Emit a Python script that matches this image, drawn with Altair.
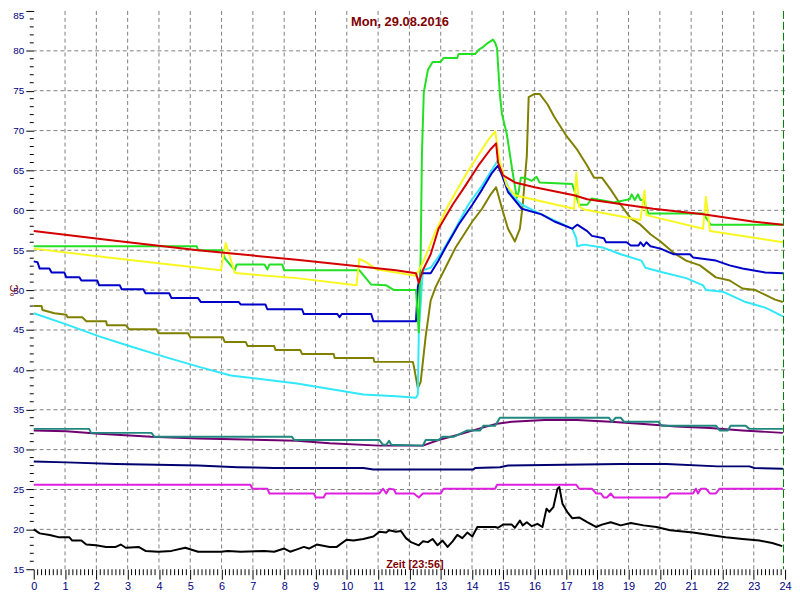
import altair as alt
import pandas as pd

# ---------------- axis / grid values ----------------
hours_major = list(range(0, 25))
temp_major = list(range(15, 90, 5))
grid_hours = list(range(1, 24))
grid_temps = list(range(20, 85, 5))
minor_temps = [t for t in range(16, 85) if t % 5 != 0]
minor_hours = [h + k / 8 for h in range(24) for k in range(1, 8)]
now_marker = [23.95]

title_text = "Mon, 29.08.2016"
xlabel_text = "Zeit [23:56]"
ylabel_text = "°C"

# ---------------- series (hour, °C) ----------------
green_h = [0, 5.2, 5.25, 6.04, 6.10, 6.42, 6.48, 7.37, 7.46, 7.53, 7.94, 8.0, 10.40, 10.78, 11.26, 11.51,
           12.21, 12.30, 12.36, 12.40, 12.46, 12.59, 12.74, 13.0, 13.09, 13.53, 13.57, 14.10, 14.20, 14.36,
           14.51, 14.67, 14.74, 14.80, 14.89, 14.96, 15.11, 15.30, 15.43, 15.49, 15.56, 15.68, 15.91, 16.06,
           16.16, 17.20, 17.42, 17.68, 17.83, 18.53, 19.04, 19.10, 19.20, 19.30, 19.38, 19.48, 19.64,
           21.38, 21.63, 23.93]
green_v = [55.5, 55.5, 55.0, 55.0, 54.0, 52.5, 53.2, 53.2, 52.6, 53.2, 53.2, 52.5, 52.5, 50.7, 50.6, 50.0,
           50.0, 44.7, 54.5, 67.0, 74.8, 77.6, 78.6, 78.6, 79.1, 79.1, 79.6, 79.6, 80.1, 80.5,
           81.0, 81.4, 81.0, 80.3, 74.5, 72.0, 69.6, 64.7, 61.6, 62.3, 64.1, 64.1, 63.7, 64.2,
           63.5, 63.3, 60.7, 60.7, 61.5, 61.0, 61.4, 62.0, 61.3, 62.0, 61.3, 61.3, 59.6,
           59.6, 58.2, 58.2]

red_h = [0, 2.6, 5.25, 8.4, 11.57, 12.21, 12.30, 12.43, 12.68, 12.93, 13.38, 13.79, 14.20, 14.58, 14.77,
         14.83, 14.99, 15.37, 16.00, 17.26, 17.68, 19.79, 21.38, 22.96, 23.93]
red_v = [57.4, 56.2, 55.0, 53.8, 52.5, 52.1, 50.9, 52.5, 54.5, 57.7, 60.7, 63.1, 65.6, 67.6, 68.4,
         66.0, 64.4, 63.5, 62.9, 61.9, 61.4, 60.2, 59.5, 58.6, 58.2]

yellow_h = [0, 3.0, 5.98, 6.13, 6.42, 6.51, 8.41, 10.31, 10.40, 10.62, 10.94, 11.57, 12.21, 12.46, 12.84,
            13.25, 13.79, 14.20, 14.51, 14.74, 14.89, 15.11, 15.37, 17.26, 17.33, 17.42, 17.58, 19.38,
            19.51, 19.57, 21.38, 21.47, 21.60, 23.93]
yellow_v = [55.2, 53.8, 52.5, 55.9, 52.2, 52.1, 51.5, 50.6, 53.9, 53.5, 52.6, 52.2, 51.8, 53.7, 57.4,
            60.7, 64.4, 66.9, 68.8, 69.9, 66.0, 63.1, 61.9, 60.2, 64.7, 60.5, 60.1, 58.8,
            62.5, 59.4, 57.7, 61.7, 57.4, 56.0]

blue_h = [0, 0.12, 0.19, 0.50, 0.57, 0.98, 1.04, 1.46, 1.52, 2.03, 2.09, 2.75, 2.81, 3.50, 3.57, 4.33,
          4.40, 5.25, 5.34, 6.55, 6.61, 7.40, 7.46, 8.57, 8.63, 9.70, 9.77, 9.84, 10.78, 10.85, 12.21,
          12.27, 12.36, 12.68, 12.93, 13.15, 13.57, 14.01, 14.32, 14.64, 14.83, 14.96, 15.15, 15.59,
          16.22, 16.63, 17.20, 17.36, 17.68, 17.83, 18.21, 18.28, 18.94, 19.07, 19.32, 19.38, 19.48,
          19.57, 19.70, 20.02, 20.43, 20.96, 21.06, 21.79, 22.23, 22.64, 23.37, 23.93]
blue_v = [53.6, 53.5, 52.7, 52.7, 52.2, 52.2, 51.6, 51.6, 51.2, 51.2, 50.6, 50.6, 50.1, 50.1, 49.6, 49.6,
          49.0, 49.0, 48.5, 48.5, 48.2, 48.2, 47.6, 47.6, 47.0, 47.0, 46.6, 47.0, 47.0, 46.1, 46.1,
          50.4, 52.1, 52.1, 53.7, 55.3, 58.2, 60.7, 62.6, 64.7, 65.6, 64.4, 62.3, 60.2,
          59.5, 58.6, 57.7, 58.2, 57.4, 56.8, 56.5, 56.0, 56.0, 55.6, 55.6, 56.0, 55.5,
          56.0, 55.5, 55.2, 54.5, 54.5, 54.1, 53.7, 53.1, 52.7, 52.2, 52.1]

olive_h = [0, 0.25, 0.28, 0.66, 1.04, 1.08, 1.55, 1.68, 2.31, 2.34, 2.94, 3.04, 3.92, 3.98, 4.93, 5.0,
           6.04, 6.10, 6.77, 6.83, 7.68, 7.72, 8.51, 8.57, 9.58, 9.61, 10.85, 10.88, 12.11, 12.14, 12.27,
           12.36, 12.52, 12.68, 12.84, 13.15, 13.47, 14.01, 14.32, 14.58, 14.77, 14.96, 15.15, 15.37,
           15.53, 15.62, 15.75, 15.81, 16.00, 16.16, 16.41, 16.63, 17.04, 17.36, 17.68, 17.90, 18.15,
           18.43, 18.75, 19.07, 19.38, 19.70, 20.02, 20.43, 20.84, 21.28, 21.79, 22.23, 22.64, 23.05,
           23.37, 23.68, 23.93]
olive_v = [48.0, 48.0, 47.5, 47.1, 46.9, 46.6, 46.6, 46.1, 46.1, 45.6, 45.6, 45.1, 45.1, 44.6, 44.6, 44.1,
           44.1, 43.5, 43.5, 43.0, 43.0, 42.5, 42.5, 42.0, 42.0, 41.5, 41.5, 41.0, 41.0, 40.5, 37.7,
           38.5, 44.2, 48.7, 50.4, 52.8, 55.3, 58.6, 60.2, 61.9, 62.9, 60.2, 57.7, 56.1,
           57.7, 60.7, 66.8, 74.2, 74.6, 74.6, 73.3, 71.7, 69.2, 67.6, 65.6, 64.1, 64.1,
           62.6, 60.7, 59.0, 58.2, 57.0, 56.1, 54.7, 53.7, 53.1, 51.6, 51.2, 50.2, 50.0,
           49.4, 48.8, 48.5]

cyan_h = [0, 1.04, 2.09, 3.13, 4.21, 5.25, 6.29, 8.41, 10.53, 11.57, 12.21, 12.27, 12.30, 12.43, 12.68,
          13.06, 13.47, 13.88, 14.32, 14.64, 14.83, 14.96, 15.27, 15.59, 16.22, 17.20, 17.33, 17.36,
          17.58, 18.21, 18.75, 19.41, 19.54, 20.11, 20.84, 21.38, 21.47, 22.01, 22.74, 23.37, 23.93]
cyan_v = [47.1, 45.7, 44.2, 42.9, 41.6, 40.4, 39.3, 38.3, 36.9, 36.7, 36.5, 36.9, 44.7, 52.5, 52.8,
          54.9, 57.7, 60.7, 63.1, 65.1, 66.3, 64.7, 61.9, 60.7, 59.5, 57.7, 56.5, 55.5,
          55.7, 55.3, 54.5, 53.7, 52.8, 52.2, 51.5, 50.6, 50.0, 49.8, 48.5, 47.8, 46.7]

teal_h = [0, 1.77, 1.83, 3.76, 3.86, 8.25, 8.32, 11.04, 11.16, 11.26, 11.35, 11.42, 12.43, 12.52, 12.93,
          13.06, 13.41, 13.85, 14.26, 14.36, 14.74, 14.89, 18.37, 18.47, 18.59, 18.75, 18.85, 19.95,
          20.05, 21.79, 21.91, 22.17, 22.26, 22.74, 22.86, 23.93]
teal_v = [32.6, 32.6, 32.1, 32.1, 31.6, 31.6, 31.2, 31.2, 30.6, 30.6, 31.1, 30.6, 30.5, 31.2, 31.2,
          31.6, 31.6, 32.4, 32.4, 33.0, 33.0, 34.0, 34.0, 33.5, 34.0, 34.0, 33.5, 33.5,
          33.0, 33.0, 32.4, 32.4, 33.0, 33.0, 32.6, 32.6]

purple_h = [0, 1.04, 2.09, 3.76, 5.25, 8.41, 9.45, 11.04, 12.43, 12.93, 13.69, 14.20, 14.74, 15.27, 16.32,
            17.36, 18.43, 19.48, 20.52, 21.60, 22.64, 23.93]
purple_v = [32.4, 32.3, 32.0, 31.6, 31.4, 31.1, 30.8, 30.5, 30.5, 31.2, 32.0, 32.6, 33.2, 33.5, 33.7,
            33.7, 33.5, 33.2, 32.9, 32.7, 32.4, 32.1]

navy_h = [0, 1.04, 2.62, 5.25, 6.51, 7.68, 10.53, 10.85, 14.04, 14.10, 14.89, 15.15, 18.75, 20.21, 21.85,
          22.86, 23.02, 23.93]
navy_v = [28.5, 28.4, 28.2, 28.0, 27.8, 27.7, 27.7, 27.5, 27.5, 27.7, 27.8, 28.0, 28.2, 28.2, 27.9,
          27.9, 27.7, 27.6]

magenta_h = [0, 6.92, 6.99, 7.46, 7.53, 8.95, 9.01, 9.26, 9.33, 11.04, 11.16, 11.26, 11.35, 11.51, 11.57,
             12.14, 12.30, 12.43, 13.00, 13.09, 14.74, 14.80, 17.33, 17.42, 17.83, 17.96, 18.12, 18.21,
             18.31, 18.43, 18.53, 20.21, 20.33, 21.06, 21.15, 21.22, 21.31, 21.47, 21.60, 21.79, 21.91,
             23.93]
magenta_v = [25.6, 25.6, 25.1, 25.1, 24.5, 24.5, 24.0, 24.0, 24.5, 24.5, 25.1, 24.5, 25.1, 25.0, 24.5,
             24.5, 24.0, 24.5, 24.5, 25.1, 25.1, 25.6, 25.6, 25.1, 25.1, 24.5, 24.5, 24.0,
             24.0, 24.5, 24.0, 24.0, 24.5, 24.5, 25.1, 24.5, 25.1, 25.1, 24.5, 24.5, 25.1,
             25.1]

black_h = [0, 0.19, 0.51, 0.82, 1.14, 1.23, 1.52, 1.68, 1.99, 2.31, 2.62, 2.78, 2.94, 3.35, 3.57, 3.98,
           4.40, 4.84, 5.25, 5.66, 5.98, 6.20, 6.61, 7.37, 7.68, 8.0, 8.19, 8.41, 8.63, 8.79, 9.04, 9.45,
           9.68, 9.99, 10.21, 10.53, 10.85, 11.04, 11.26, 11.35, 11.57, 11.73, 11.89, 12.05, 12.30,
           12.43, 12.59, 12.74, 12.90, 13.06, 13.22, 13.38, 13.53, 13.69, 13.85, 14.01, 14.17, 14.42,
           14.74, 14.83, 14.99, 15.27, 15.37, 15.53, 15.62, 15.75, 15.91, 16.09, 16.25, 16.38, 16.47,
           16.60, 16.73, 16.79, 16.89, 17.04, 17.20, 17.42, 17.68, 17.96, 18.15, 18.43, 18.75, 19.07,
           19.48, 19.89, 20.33, 21.06, 21.60, 22.10, 22.64, 23.18, 23.59, 23.91]
black_v = [20.0, 19.5, 19.3, 19.0, 19.0, 18.6, 18.6, 18.1, 18.0, 17.8, 17.8, 18.1, 17.7, 17.8, 17.3, 17.2,
           17.3, 17.7, 17.2, 17.2, 17.2, 17.3, 17.2, 17.3, 17.2, 17.6, 17.2, 17.5, 17.8, 17.6, 18.1, 17.8,
           17.8, 18.7, 18.6, 18.8, 19.1, 19.7, 19.6, 19.9, 19.7, 19.8, 18.9, 18.4, 18.0,
           18.5, 18.4, 18.8, 18.0, 18.6, 17.8, 18.5, 19.3, 18.9, 19.6, 19.1, 20.3, 20.3,
           20.3, 20.2, 20.6, 20.6, 20.2, 21.1, 20.5, 20.9, 20.4, 20.7, 20.3, 22.6, 22.2,
           22.8, 25.1, 25.3, 23.2, 22.2, 21.4, 21.5, 20.9, 20.3, 20.6, 20.9, 20.5, 20.8,
           20.5, 20.3, 19.9, 19.6, 19.3, 19.0, 18.8, 18.6, 18.3, 17.9]

series = [
    ("black", black_h, black_v, "#000000"),
    ("magenta", magenta_h, magenta_v, "#e020e0"),
    ("navy", navy_h, navy_v, "#000070"),
    ("purple", purple_h, purple_v, "#700070"),
    ("teal", teal_h, teal_v, "#20887f"),
    ("olive", olive_h, olive_v, "#808000"),
    ("cyan", cyan_h, cyan_v, "#30e8f8"),
    ("blue", blue_h, blue_v, "#0000c8"),
    ("green", green_h, green_v, "#22e022"),
    ("yellow", yellow_h, yellow_v, "#f8f820"),
    ("red", red_h, red_v, "#d40000"),
]

# ---------------- layout ----------------
W, H = 759, 564
FONT = "Liberation Sans"

x_scale = alt.Scale(domain=[0, 24], nice=False, zero=False)
y_scale = alt.Scale(domain=[15, 85], nice=False, zero=False)

x_axis = alt.Axis(values=hours_major, title=None, labelColor="#000080", labelFont=FONT,
                  labelFontSize=11, labelPadding=1, tickSize=10, tickColor="#000000",
                  domain=False, grid=False, labelFlush=False, labelAngle=0, format="d",
                  labelOverlap=False)
y_axis = alt.Axis(values=temp_major, title=ylabel_text, titleColor="#800000", titleFont=FONT,
                  titleFontSize=11, titleFontWeight="normal", titleAngle=270, titleX=-19, titleY=282,
                  titleAlign="center", titleBaseline="middle",
                  labelColor="#000080", labelFont=FONT, labelFontSize=10, labelPadding=2,
                  labelBaseline={"condition": {"test": "datum.value == 85", "value": "top"},
                                 "value": "middle"},
                  tickSize=8, tickColor="#000000", domain=False, grid=False, labelFlush=False,
                  labelOverlap=False, format="d")


def X(field="h"):
    return alt.X(f"{field}:Q", scale=x_scale, axis=x_axis)


def Y(field="v"):
    return alt.Y(f"{field}:Q", scale=y_scale, axis=y_axis)


layers = []

# grid
layers.append(alt.Chart(pd.DataFrame({"h": grid_hours})).mark_rule(
    color="#808080", strokeDash=[4, 3], strokeWidth=1).encode(x=X()))
layers.append(alt.Chart(pd.DataFrame({"v": grid_temps})).mark_rule(
    color="#808080", strokeDash=[4, 3], strokeWidth=1).encode(y=Y()))

# minor ticks
layers.append(alt.Chart(pd.DataFrame({"v": minor_temps})).mark_rule(
    color="#000000", strokeWidth=1).encode(y=Y(), x=alt.value(-4), x2=alt.value(0)))
layers.append(alt.Chart(pd.DataFrame({"h": minor_hours})).mark_rule(
    color="#000000", strokeWidth=1).encode(x=X(), y=alt.value(H), y2=alt.value(H + 6)))

# "now" marker
layers.append(alt.Chart(pd.DataFrame({"h": now_marker})).mark_rule(
    color="#008000", strokeDash=[8, 3], strokeWidth=1).encode(x=X()))

# series lines
for name, hs, vs, col in series:
    df = pd.DataFrame({"h": hs, "v": vs, "i": list(range(len(hs)))})
    layers.append(alt.Chart(df).mark_line(color=col, strokeWidth=2, strokeJoin="round").encode(
        x=X(), y=Y(), order=alt.Order("i:Q")))

# texts
layers.append(alt.Chart(pd.DataFrame({"t": [title_text]})).mark_text(
    font=FONT, fontSize=13, fontWeight="bold", color="#800000", align="center",
    baseline="alphabetic").encode(text="t:N", x=alt.value(370), y=alt.value(15)))
layers.append(alt.Chart(pd.DataFrame({"t": [xlabel_text]})).mark_text(
    font=FONT, fontSize=11, fontWeight="bold", color="#800000", align="center",
    baseline="alphabetic").encode(text="t:N", x=alt.value(385), y=alt.value(H - 1)))

chart = alt.layer(*layers).properties(
    width=W, height=H,
    autosize="none",
    padding={"left": 26, "top": 0, "right": 7, "bottom": 20},
    background="white",
).configure_view(stroke=None)

chart.save("out.html", embed_options={"renderer": "svg", "actions": False})
